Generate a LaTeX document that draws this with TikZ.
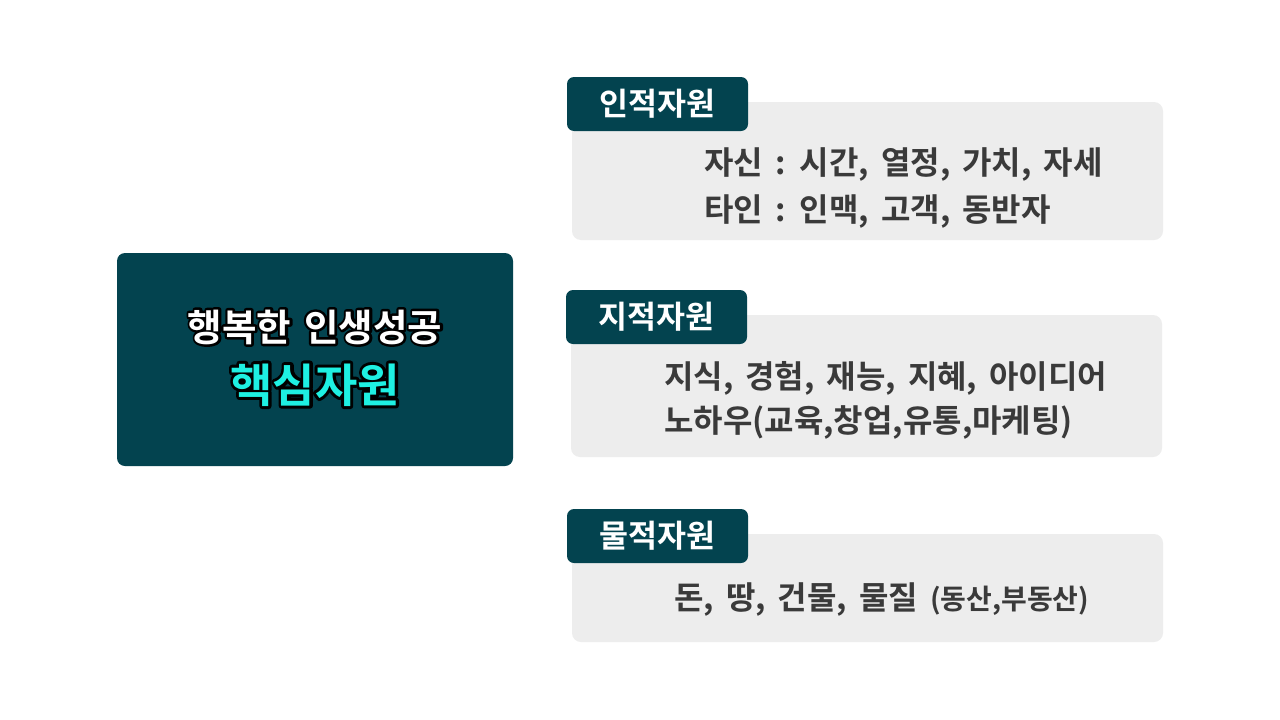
\documentclass[tikz,border=0pt]{standalone}
\usepackage{fontspec}
\setmainfont{Noto Sans CJK KR}[BoldFont={* Bold}]
\definecolor{teal}{HTML}{03434F}
\definecolor{boxgray}{HTML}{EDEDED}
\definecolor{txtgray}{HTML}{3A3A3A}
\definecolor{cyanhl}{HTML}{1EF0E2}
\newcommand\outlinedtext[3]{\makebox[0pt][l]{\color{black}\special{pdf:literal direct 1 Tr #2 w 1 j}#3\special{pdf:literal direct 0 Tr 0.4 w 0 j}}\textcolor{#1}{#3}}
\newcommand\wsp[1]{\spaceskip=#1\relax}
\tikzset{
  mainbox/.style={fill=teal, rounded corners=8pt, inner sep=0pt},
  tabbox/.style={fill=teal, rounded corners=7pt, inner sep=0pt, minimum width=181pt, minimum height=54pt},
  graybox/.style={fill=boxgray, rounded corners=9pt, inner sep=0pt, minimum width=591pt},
  tabtext/.style={text=white, font=\bfseries\fontsize{31.5}{31.5}\selectfont, inner sep=0pt, anchor=base},
  bodytext/.style={text=txtgray, font=\bfseries\fontsize{32}{32}\selectfont, inner sep=0pt, anchor=base west},
}
\begin{document}
\begin{tikzpicture}[x=1pt,y=-1pt]
\useasboundingbox[fill=white] (0,0) rectangle (1280,720);
% main box
\node[mainbox, minimum width=396pt, minimum height=213pt] (main) at (315,359.5) {};
\node[inner sep=0pt, anchor=base, font=\bfseries\fontsize{37.5}{37.5}\selectfont] (t1) at (315,341) {\wsp{13pt}\outlinedtext{white}{5}{행복한 인생성공}};
\node[inner sep=0pt, anchor=base, font=\bfseries\fontsize{46}{46}\selectfont] (t2) at (315,402) {\outlinedtext{cyanhl}{6}{핵심자원}};
% group 1
\node[graybox, minimum height=138pt] (g1) at (867.5,171) {};
\node[tabbox] (h1) at (657.5,104) {};
\node[tabtext] (h1t) at (657.5,115.5) {인적자원};
\node[bodytext] (l11) at (704,174) {\wsp{12pt}자신 : 시간, 열정, 가치, 자세};
\node[bodytext] (l12) at (704,221) {\wsp{12pt}타인 : 인맥, 고객, 동반자};
% group 2
\node[graybox, minimum height=142pt] (g2) at (866.5,386) {};
\node[tabbox] (h2) at (656.5,317) {};
\node[tabtext] (h2t) at (656.5,328.5) {지적자원};
\node[bodytext] (l21) at (664,388) {\wsp{12pt}지식, 경험, 재능, 지혜, 아이디어};
\node[bodytext] (l22) at (664,432) {\wsp{12pt}노하우(교육,창업,유통,마케팅)};
% group 3
\node[graybox, minimum height=108pt] (g3) at (867.5,588) {};
\node[tabbox] (h3) at (657.5,536) {};
\node[tabtext] (h3t) at (657.5,547.5) {물적자원};
\node[bodytext] (l31) at (674,609) {\wsp{12pt}돈, 땅, 건물, 물질 {\fontsize{28}{28}\selectfont(동산,부동산)}};
\end{tikzpicture}
\end{document}
